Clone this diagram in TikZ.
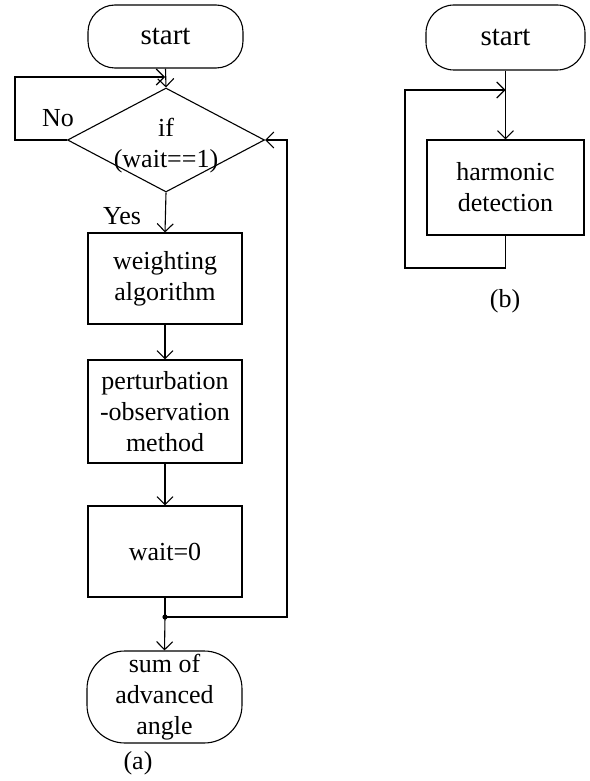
\documentclass[tikz,border=0pt]{standalone}
\usepackage{fontspec}
\setmainfont{Liberation Serif}
\usetikzlibrary{shapes.geometric,arrows.meta}
\tikzstyle{term}=[rectangle,draw=black,line width=1.1pt,inner sep=0pt,
  align=center,minimum width=155pt]
\tikzstyle{proc}=[rectangle,draw=black,line width=1.1pt,inner sep=0pt,
  align=center,minimum width=154pt]
\tikzstyle{dec}=[diamond,draw=black,line width=1.1pt,inner sep=0pt,
  minimum width=197pt,minimum height=104pt]
\tikzstyle{flow}=[line width=1.1pt,-{Straight Barb[length=8pt,width=16pt]}]
\tikzstyle{wire}=[line width=1.1pt]

\begin{document}
\begin{tikzpicture}[x=1pt,y=-1pt,font=\fontsize{26}{31}\selectfont]
    \useasboundingbox (0,0) rectangle (589,781);
    % (a)
    \node [style=term,rounded corners=27pt,minimum height=63pt,font=\fontsize{29}{34}\selectfont] (startA) at (165.5,36.5) {start};
    \node [style=dec] (ifA) at (166,140) {};
    \node [align=center] (ifT) at (166,146) {if\\(wait==1)};
    \node [style=proc,minimum height=91pt] (weigh) at (165,278.5) {weighting\\algorithm};
    \node [style=proc,minimum height=103pt] (perturb) at (165,411.5) {perturbation\\-observation\\method};
    \node [style=proc,minimum height=91pt] (waitz) at (165,551.5) {wait=0};
    \node [style=term,rounded corners=38pt,minimum height=92pt] (sumA) at (164.5,697) {sum of\\advanced\\angle};
    \node (No) at (58,118) {No};
    \node (Yes) at (122,216) {Yes};
    \node (capA) at (138,763) {(a)};
    \coordinate (mrgA) at (165,77);
    \coordinate (noA) at (15,77);
    \coordinate (junc) at (165,617);
    \draw [style=flow] (startA.south) to (ifA.north);
    \draw [style=flow] (ifA.west) -| (noA) -- (mrgA);
    \draw [style=flow] (ifA.south) to (weigh.north);
    \draw [style=flow] (weigh.south) to (perturb.north);
    \draw [style=flow] (perturb.south) to (waitz.north);
    \draw [style=wire] (waitz.south) to (junc);
    \draw [style=flow] (junc) to (sumA.north);
    \draw [style=flow] (junc) -- ++(122,0) |- (ifA.east);
    \fill (junc) circle (2.6pt);
    % (b)
    \node [style=term,rounded corners=28pt,minimum width=159pt,minimum height=65pt,font=\fontsize{29}{34}\selectfont] (startB) at (505.5,37.5) {start};
    \node [style=proc,minimum width=157pt,minimum height=95pt] (harm) at (505.5,187.5) {harmonic\\detection};
    \node (capB) at (505,301) {(b)};
    \coordinate (mrgB) at (505.5,90);
    \coordinate (loopB) at (405,268);
    \draw [style=flow] (startB.south) to (harm.north);
    \draw [style=flow] (harm.south) |- (loopB) |- (mrgB);
  \end{tikzpicture}
\end{document}
